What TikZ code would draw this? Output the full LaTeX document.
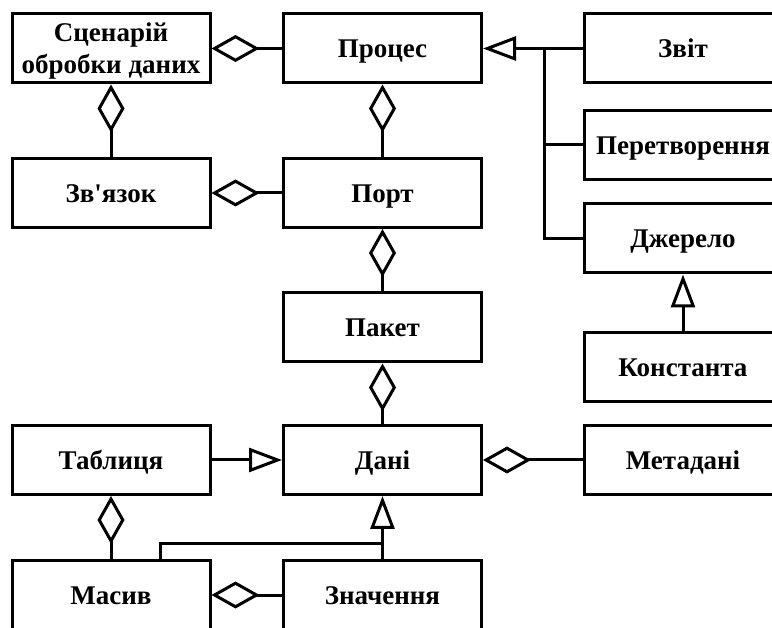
\documentclass[tikz,border=0pt]{standalone}
\usepackage{fontspec}
\setmainfont{Liberation Serif}
\usetikzlibrary{arrows.meta}
\tikzset{
  box/.style={draw, line width=3pt, minimum width=198pt, minimum height=69pt, inner sep=0pt,
    font=\fontsize{27}{32}\selectfont\bfseries},
  one/.style={box, text height=18.5pt, text depth=0pt},
  link/.style={line width=3pt},
  agg/.style={link, {Diamond[open, length=48pt, width=27pt]}-},
  inh/.style={link, -{Triangle[open, length=33pt, width=24pt]}},
}
\begin{document}
\begin{tikzpicture}[x=1pt, y=-1pt]
\useasboundingbox (0,0) rectangle (772,628);
\clip (0,0) rectangle (772,628);
\node[one] (scen) at (111,48.5) {\raisebox{0pt}{\begin{tabular}{@{}c@{}}Сценарій\\обробки даних\end{tabular}}};
\node[one] (proc) at (382.5,48.5) {Процес};
\node[one] (zvit) at (683,48.5) {Звіт};
\node[one] (pere) at (683,145) {Перетворення};
\node[one] (dzh) at (683,238.5) {Джерело};
\node[one] (konst) at (683,367.5) {Константа};
\node[one] (zv) at (111,193) {Зв\textquotesingle язок};
\node[one] (port) at (382.5,193) {Порт};
\node[one] (paket) at (382.5,327.5) {Пакет};
\node[one] (dani) at (382.5,460) {Дані};
\node[one] (tabl) at (111,460) {Таблиця};
\node[one] (meta) at (683,460) {Метадані};
\node[one] (masyv) at (111,595) {Масив};
\node[one] (znach) at (382.5,595) {Значення};
\coordinate (trunk) at (544,48.5);
\coordinate (joint) at (382.5,543);
% aggregations
\draw[agg] (scen) -- (proc);
\draw[agg] (scen) -- (zv);
\draw[agg] (zv) -- (port);
\draw[agg] (proc) -- (port);
\draw[agg] (port) -- (paket);
\draw[agg] (paket) -- (dani);
\draw[agg] (dani) -- (meta);
\draw[agg] (tabl) -- (masyv);
\draw[agg] (masyv) -- (znach);
% inheritance
\draw[inh] (zvit) -- (proc);
\draw[link] (pere.west) -| (trunk);
\draw[link] (dzh.west) -| (trunk);
\draw[inh] (konst) -- (dzh);
\draw[inh] (tabl) -- (dani);
\draw[inh] (znach) -- (dani);
\draw[link] ([xshift=49pt]masyv.north) |- (joint);
\end{tikzpicture}
\end{document}
